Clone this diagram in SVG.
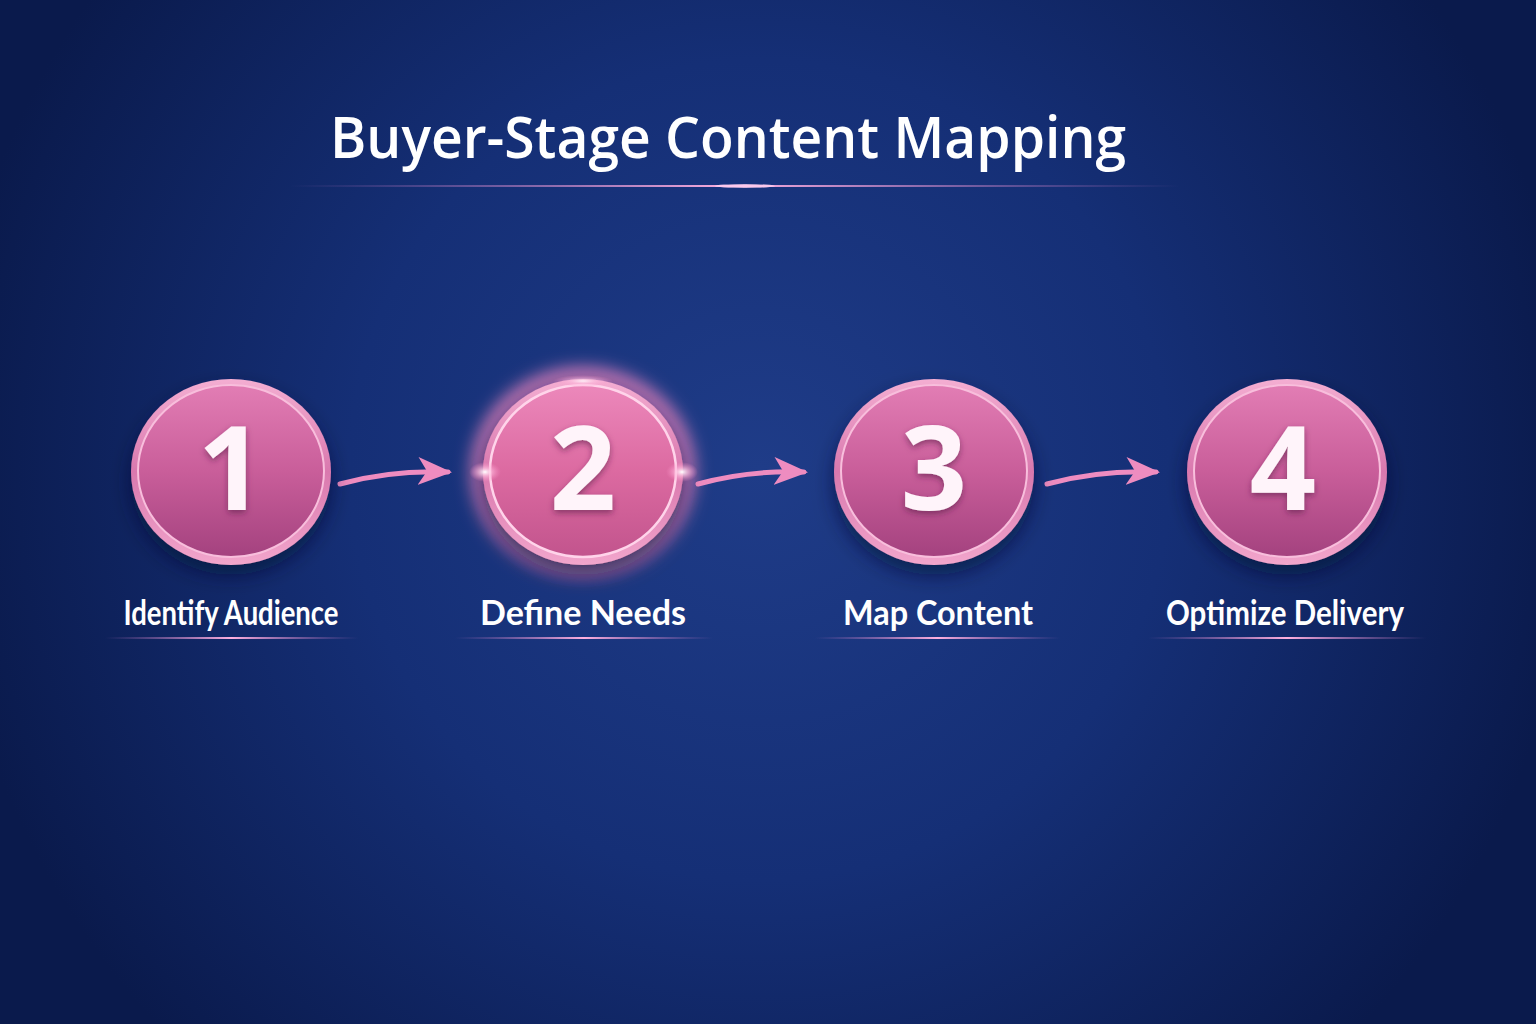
<svg xmlns="http://www.w3.org/2000/svg" width="1536" height="1024" viewBox="0 0 1536 1024">
<defs>
<radialGradient id="bg" cx="760" cy="470" r="820" gradientUnits="userSpaceOnUse">
<stop offset="0" stop-color="#1f3c88"/>
<stop offset="0.5" stop-color="#152f76"/>
<stop offset="1" stop-color="#0a1a4c"/>
</radialGradient>
<linearGradient id="coin" x1="0" y1="0" x2="0" y2="1">
<stop offset="0" stop-color="#e27db4"/>
<stop offset="0.5" stop-color="#c95e9a"/>
<stop offset="1" stop-color="#a4427f"/>
</linearGradient>
<linearGradient id="coin2" x1="0" y1="0" x2="0" y2="1">
<stop offset="0" stop-color="#ec88bb"/>
<stop offset="0.5" stop-color="#dc6aa1"/>
<stop offset="1" stop-color="#c2548d"/>
</linearGradient>
<linearGradient id="rim" x1="0" y1="0" x2="0" y2="1">
<stop offset="0" stop-color="#f4aed2"/>
<stop offset="0.5" stop-color="#d978ae"/>
<stop offset="1" stop-color="#f2a6cc"/>
</linearGradient>
<linearGradient id="line" x1="0" y1="0" x2="1" y2="0">
<stop offset="0" stop-color="#c070c0" stop-opacity="0"/>
<stop offset="0.5" stop-color="#ffb0e0" stop-opacity="1"/>
<stop offset="1" stop-color="#c070c0" stop-opacity="0"/>
</linearGradient>
<radialGradient id="flare" cx="0.5" cy="0.5" r="0.5">
<stop offset="0" stop-color="#ffffff" stop-opacity="1"/>
<stop offset="0.4" stop-color="#ffc0e0" stop-opacity="0.7"/>
<stop offset="1" stop-color="#ff90c8" stop-opacity="0"/>
</radialGradient>
<filter id="shadow" x="-30%" y="-30%" width="160%" height="170%">
<feDropShadow dx="0" dy="10" stdDeviation="10" flood-color="#050c30" flood-opacity="0.6"/>
</filter>
<filter id="blur" x="-30%" y="-30%" width="160%" height="160%">
<feGaussianBlur stdDeviation="9"/>
</filter>
<filter id="tshadow" x="-20%" y="-20%" width="140%" height="140%">
<feDropShadow dx="0" dy="3" stdDeviation="3" flood-color="#5a1a4a" flood-opacity="0.6"/>
</filter>
<marker id="ah" viewBox="0 0 34 28" refX="30" refY="14" markerWidth="34" markerHeight="28" markerUnits="userSpaceOnUse" orient="auto">
<path d="M0,0 L34,14 L0,28 L9,14 Z" fill="#ee8cc0"/>
</marker>
<style>
.num{font-family:"Open Sans","DejaVu Sans",sans-serif;font-weight:700;font-size:116px;fill:#fff4fa;text-anchor:middle}
.lbl{font-family:Lato,"Open Sans",sans-serif;font-weight:700;font-size:34px;fill:#ffffff;text-anchor:middle}
.title{font-family:"Open Sans",Lato,sans-serif;font-weight:600;font-size:58px;fill:#ffffff}
.arr{fill:none;stroke:#ee8cc0;stroke-width:5;stroke-linecap:round}
.face{stroke:#f8bedc;stroke-width:2}
</style>
</defs>
<rect width="1536" height="1024" fill="url(#bg)"/>
<g id="title">
<text class="title" x="330" y="158" textLength="796" lengthAdjust="spacingAndGlyphs">Buyer-Stage Content Mapping</text>
<rect x="290" y="185" width="890" height="2" fill="url(#line)"/>
<ellipse cx="745" cy="186" rx="30" ry="2" fill="#ffd0f0" opacity="0.8"/>
</g>
<g id="connectors">
<path class="arr" d="M340,484 Q390,470 448,472" marker-end="url(#ah)"/>
<path class="arr" d="M698,484 Q748,470 804,472" marker-end="url(#ah)"/>
<path class="arr" d="M1047,484 Q1098,470 1156,472" marker-end="url(#ah)"/>
</g>
<g id="node1">
<ellipse cx="231" cy="472" rx="100" ry="93" fill="url(#rim)" filter="url(#shadow)"/>
<ellipse cx="231" cy="471" rx="93" ry="86" class="face" fill="url(#coin)"/>
<text class="num" x="231" y="510" filter="url(#tshadow)">1</text>
<text class="lbl" x="231" y="625" textLength="215" lengthAdjust="spacingAndGlyphs">Identify Audience</text>
<rect x="105" y="637" width="253" height="2" fill="url(#line)"/>
</g>
<g id="node2">
<ellipse cx="583" cy="472" rx="103" ry="96" fill="none" stroke="#ff8cc8" stroke-width="14" filter="url(#blur)"/>
<ellipse cx="583" cy="472" rx="100" ry="93" fill="url(#rim)" filter="url(#shadow)"/>
<ellipse cx="583" cy="471" rx="93" ry="86" fill="url(#coin2)" stroke="#ffd4ea" stroke-width="2.5"/>
<ellipse cx="485" cy="472" rx="16" ry="10" fill="url(#flare)"/>
<ellipse cx="682" cy="472" rx="16" ry="10" fill="url(#flare)"/>
<ellipse cx="583" cy="381" rx="30" ry="6" fill="url(#flare)" opacity="0.8"/>
<text class="num" x="583" y="510" filter="url(#tshadow)">2</text>
<text class="lbl" x="583" y="625" textLength="206" lengthAdjust="spacingAndGlyphs">Define Needs</text>
<rect x="455" y="637" width="258" height="2" fill="url(#line)"/>
</g>
<g id="node3">
<ellipse cx="934" cy="472" rx="100" ry="93" fill="url(#rim)" filter="url(#shadow)"/>
<ellipse cx="934" cy="471" rx="93" ry="86" class="face" fill="url(#coin)"/>
<text class="num" x="934" y="510" filter="url(#tshadow)">3</text>
<text class="lbl" x="938" y="625" textLength="190" lengthAdjust="spacingAndGlyphs">Map Content</text>
<rect x="815" y="637" width="245" height="2" fill="url(#line)"/>
</g>
<g id="node4">
<ellipse cx="1287" cy="472" rx="100" ry="93" fill="url(#rim)" filter="url(#shadow)"/>
<ellipse cx="1287" cy="471" rx="93" ry="86" class="face" fill="url(#coin)"/>
<text class="num" x="1283" y="510" filter="url(#tshadow)">4</text>
<text class="lbl" x="1285" y="625" textLength="238" lengthAdjust="spacingAndGlyphs">Optimize Delivery</text>
<rect x="1148" y="637" width="278" height="2" fill="url(#line)"/>
</g>
</svg>
